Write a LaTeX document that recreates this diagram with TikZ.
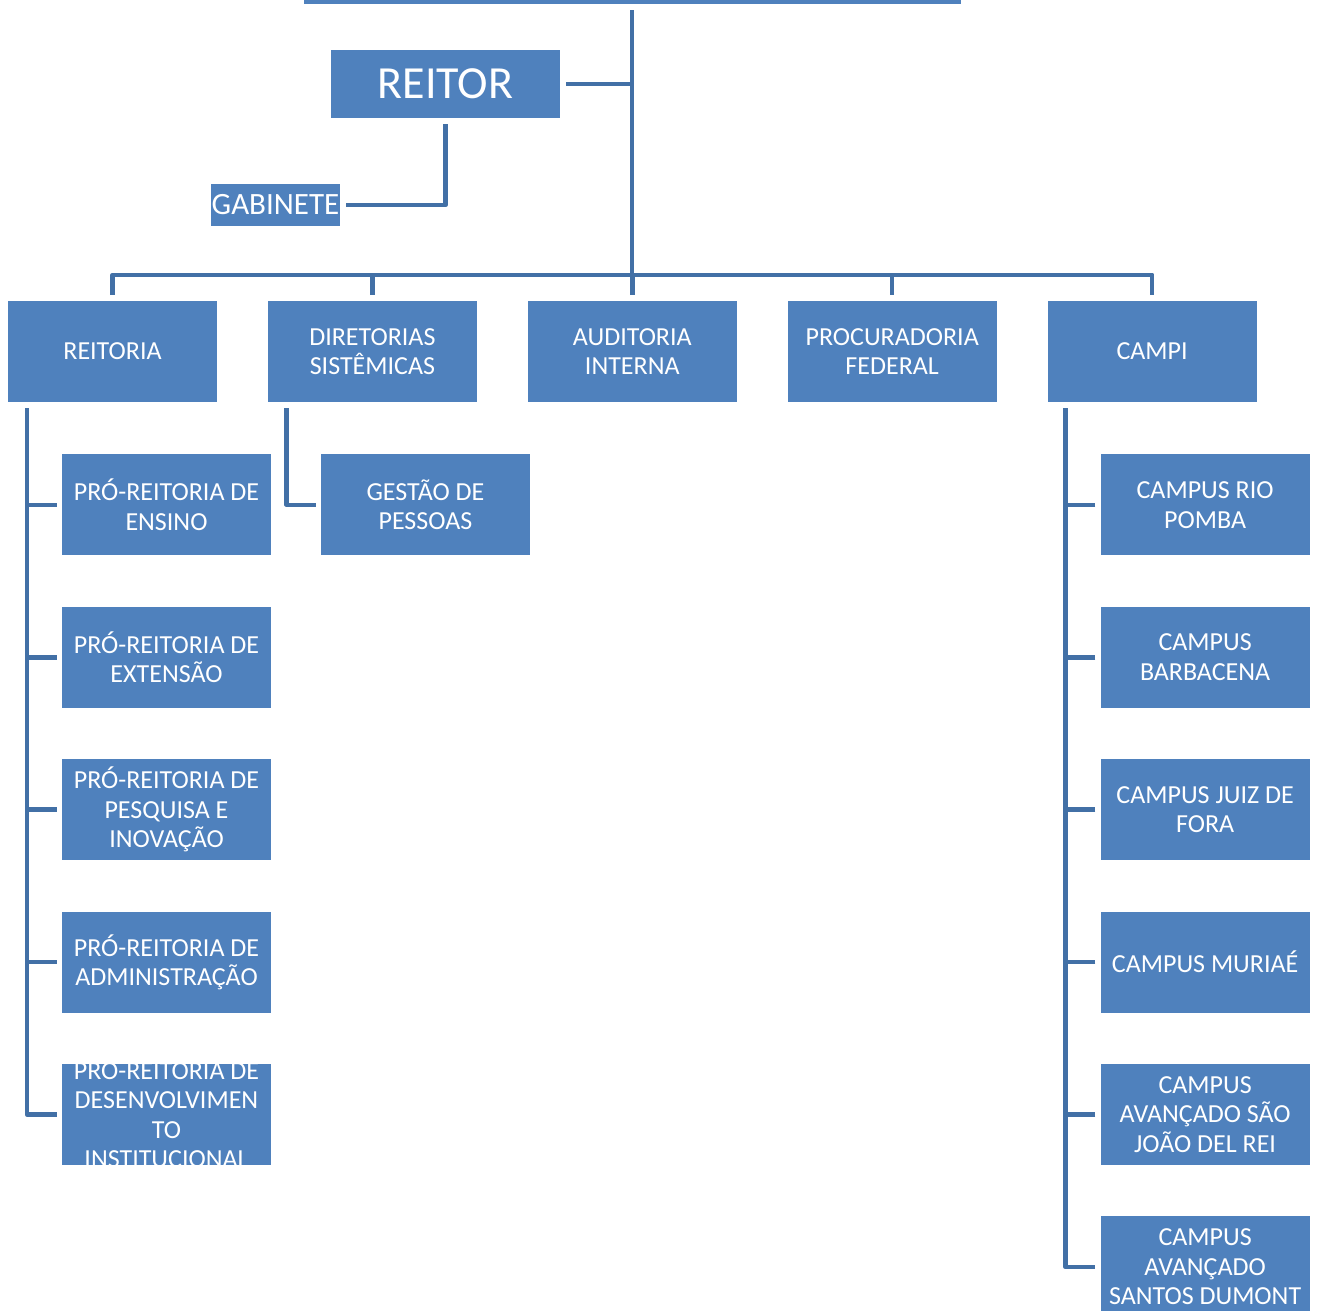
\documentclass[tikz,border=0pt]{standalone}
\usepackage{fontspec}
\setmainfont{Carlito}
\usetikzlibrary{positioning}
\definecolor{boxblue}{HTML}{4F81BD}
\definecolor{linkblue}{HTML}{4270A6}

\begin{document}
\begin{tikzpicture}[
  x=1pt, y=-1pt,
  unit/.style={fill=boxblue, text=white, align=center, inner sep=0pt, minimum width=209pt, minimum height=101pt, font=\fontsize{26}{29.5}\selectfont},
  unittext/.style={text=white, align=center, inner sep=0pt, font=\fontsize{26}{29.5}\selectfont},
  conn/.style={draw=linkblue, line width=4.5pt, line join=round}
]
\useasboundingbox (0,0) rectangle (1317,1310);

% top box, cut by the page edge
\node[fill=boxblue, inner sep=0pt, minimum width=657pt, minimum height=60pt, anchor=south] (topbox) at (632,4) {};

\node[fill=boxblue, text=white, inner sep=0pt, minimum width=229pt, minimum height=68pt, font=\fontsize{46}{50}\selectfont] (reitor) at (445.5,84) {REITOR};
\node[fill=boxblue, text=white, inner sep=0pt, minimum width=129pt, minimum height=42pt, font=\fontsize{31}{34}\selectfont] (gabinete) at (275.5,205) {GABINETE};

% second level
\node[unit] (reitoria) at (112.5,351.5) {REITORIA};
\node[unit, right=50.5pt of reitoria] (diretorias) {DIRETORIAS\\SISTÊMICAS};
\node[unit, right=50.5pt of diretorias] (auditoria) {AUDITORIA\\INTERNA};
\node[unit, right=50.5pt of auditoria] (procuradoria) {PROCURADORIA\\FEDERAL};
\node[unit, right=50.5pt of procuradoria] (campi) {CAMPI};

% pro-reitorias
\node[unit, below right=52pt and 54pt of reitoria.south west] (ensino) {PRÓ-REITORIA DE\\ENSINO};
\node[unit, below=51pt of ensino] (extensao) {PRÓ-REITORIA DE\\EXTENSÃO};
\node[unit, below=51pt of extensao] (pesquisa) {PRÓ-REITORIA DE\\PESQUISA E\\INOVAÇÃO};
\node[unit, below=51pt of pesquisa] (admin) {PRÓ-REITORIA DE\\ADMINISTRAÇÃO};
\node[unit, below=51pt of admin] (desenv) {};
\begin{scope}
  \clip (desenv.south west) rectangle (desenv.north east);
  \node[unittext] (desenvtxt) at ([yshift=2pt]desenv.center) {PRÓ-REITORIA DE\\DESENVOLVIMEN\\TO\\INSTITUCIONAL};
\end{scope}

\node[unit, below right=52pt and 53pt of diretorias.south west] (gestao) {GESTÃO DE\\PESSOAS};

% campi
\node[unit, below right=52pt and 53pt of campi.south west] (riopomba) {CAMPUS RIO\\POMBA};
\node[unit, below=51pt of riopomba] (barbacena) {CAMPUS\\BARBACENA};
\node[unit, below=51pt of barbacena] (juizdefora) {CAMPUS JUIZ DE\\FORA};
\node[unit, below=51pt of juizdefora] (muriae) {CAMPUS MURIAÉ};
\node[unit, below=51pt of muriae] (saojoao) {CAMPUS\\AVANÇADO SÃO\\JOÃO DEL REI};
\node[unit, below=51pt of saojoao] (santosdumont) {CAMPUS\\AVANÇADO\\SANTOS DUMONT};

% connectors
\coordinate (bus) at ([yshift=26pt]topbox.south |- auditoria.north);
\draw[conn] ([yshift=-6pt]topbox.south) -- (bus);
\draw[conn] ([xshift=6pt]reitor.east) -- (reitor.east -| bus);
\draw[conn] ([yshift=-6pt]reitor.south) |- ([xshift=6pt]gabinete.east);
\draw[conn] ([yshift=6pt]reitoria.north) |- (bus) -| ([yshift=6pt]campi.north);
\foreach \n in {diretorias,auditoria,procuradoria}
  \draw[conn] ([yshift=6pt]\n.north) -- (\n.north |- bus);

\coordinate (ltrunk) at ([xshift=19pt]reitoria.south west);
\draw[conn] ([yshift=-6pt]ltrunk) |- ([xshift=-5pt]desenv.west);
\foreach \n in {ensino,extensao,pesquisa,admin}
  \draw[conn] ([xshift=-5pt]\n.west) -- (\n.west -| ltrunk);

\draw[conn] ([xshift=19pt,yshift=-6pt]diretorias.south west) |- ([xshift=-5pt]gestao.west);

\coordinate (ctrunk) at ([xshift=18pt]campi.south west);
\draw[conn] ([yshift=-6pt]ctrunk) |- ([xshift=-5pt]santosdumont.west);
\foreach \n in {riopomba,barbacena,juizdefora,muriae,saojoao}
  \draw[conn] ([xshift=-5pt]\n.west) -- (\n.west -| ctrunk);

\end{tikzpicture}
\end{document}
